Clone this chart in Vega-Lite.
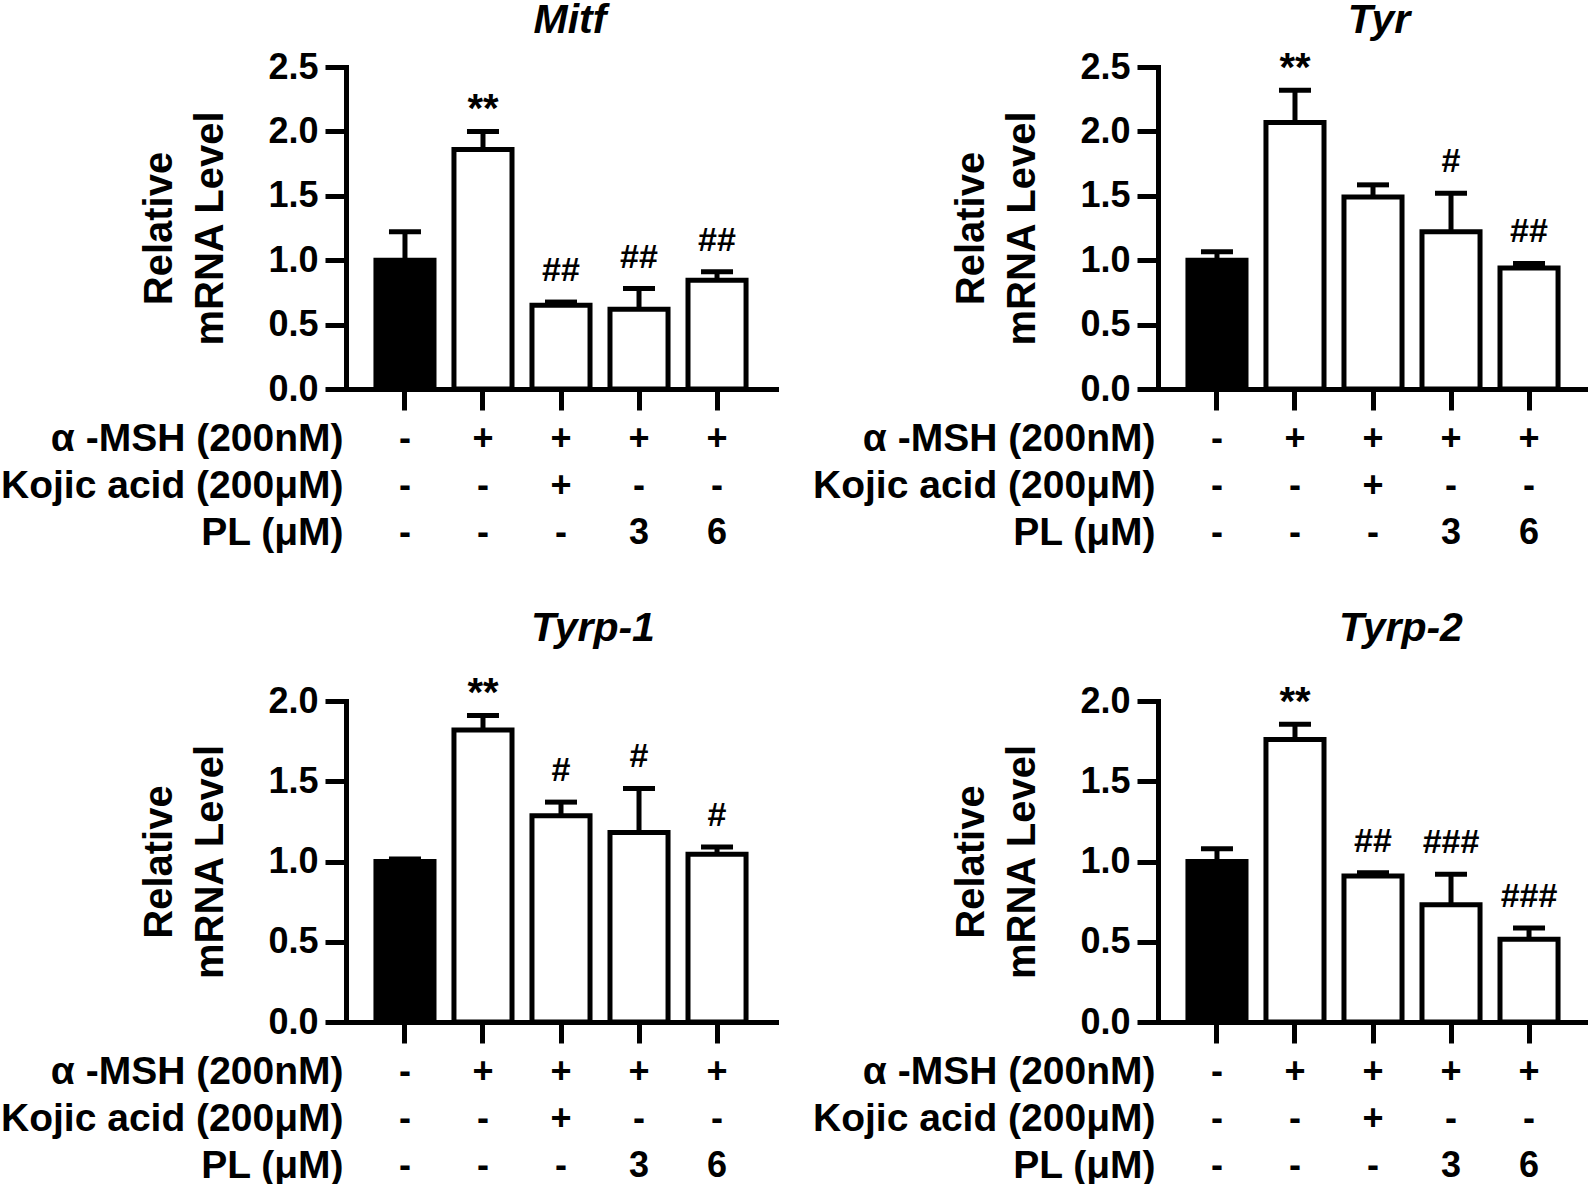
{
  "$schema": "https://vega.github.io/schema/vega-lite/v6.json",
  "padding": 0,
  "background": "white",
  "config": {
    "font": "Liberation Sans",
    "view": {"stroke": null},
    "axis": {"labelColor": "black", "titleColor": "black", "grid": false},
    "axisY": {"labelFontSize": 36, "labelFontWeight": "bold", "labelPadding": 7, "tickSize": 21, "tickWidth": 5, "tickColor": "black", "domainWidth": 5, "domainColor": "black", "domainCap": "square", "titleFontSize": 40, "titleFontWeight": "bold", "titleLineHeight": 51, "titlePadding": 37},
    "axisX": {"labels": false, "tickSize": 21, "tickWidth": 5, "tickColor": "black", "domainWidth": 5, "domainColor": "black", "domainCap": "square"},
    "title": {"fontSize": 41, "fontWeight": "bold", "fontStyle": "italic", "color": "black", "anchor": "middle", "baseline": "alphabetic", "frame": "group"}
  },
  "datasets": {
    "bars": [
      {"gene": "Mitf", "cond": "c1", "grp": "ctrl", "value": 1.0, "upper": 1.22, "sig": ""},
      {"gene": "Mitf", "cond": "c2", "grp": "trt", "value": 1.86, "upper": 2.0, "sig": "**"},
      {"gene": "Mitf", "cond": "c3", "grp": "trt", "value": 0.65, "upper": 0.675, "sig": "##"},
      {"gene": "Mitf", "cond": "c4", "grp": "trt", "value": 0.62, "upper": 0.78, "sig": "##"},
      {"gene": "Mitf", "cond": "c5", "grp": "trt", "value": 0.845, "upper": 0.91, "sig": "##"},
      {"gene": "Tyr", "cond": "c1", "grp": "ctrl", "value": 1.0, "upper": 1.065, "sig": ""},
      {"gene": "Tyr", "cond": "c2", "grp": "trt", "value": 2.07, "upper": 2.32, "sig": "**"},
      {"gene": "Tyr", "cond": "c3", "grp": "trt", "value": 1.49, "upper": 1.585, "sig": ""},
      {"gene": "Tyr", "cond": "c4", "grp": "trt", "value": 1.22, "upper": 1.52, "sig": "#"},
      {"gene": "Tyr", "cond": "c5", "grp": "trt", "value": 0.94, "upper": 0.975, "sig": "##"},
      {"gene": "Tyrp-1", "cond": "c1", "grp": "ctrl", "value": 1.0, "upper": 1.015, "sig": ""},
      {"gene": "Tyrp-1", "cond": "c2", "grp": "trt", "value": 1.82, "upper": 1.91, "sig": "**"},
      {"gene": "Tyrp-1", "cond": "c3", "grp": "trt", "value": 1.285, "upper": 1.37, "sig": "#"},
      {"gene": "Tyrp-1", "cond": "c4", "grp": "trt", "value": 1.18, "upper": 1.455, "sig": "#"},
      {"gene": "Tyrp-1", "cond": "c5", "grp": "trt", "value": 1.045, "upper": 1.09, "sig": "#"},
      {"gene": "Tyrp-2", "cond": "c1", "grp": "ctrl", "value": 1.0, "upper": 1.08, "sig": ""},
      {"gene": "Tyrp-2", "cond": "c2", "grp": "trt", "value": 1.76, "upper": 1.855, "sig": "**"},
      {"gene": "Tyrp-2", "cond": "c3", "grp": "trt", "value": 0.91, "upper": 0.93, "sig": "##"},
      {"gene": "Tyrp-2", "cond": "c4", "grp": "trt", "value": 0.73, "upper": 0.92, "sig": "###"},
      {"gene": "Tyrp-2", "cond": "c5", "grp": "trt", "value": 0.515, "upper": 0.585, "sig": "###"}
    ],
    "table": [
      {"cond": "c1", "factor": "α -MSH (200nM)", "val": "-"},
      {"cond": "c2", "factor": "α -MSH (200nM)", "val": "+"},
      {"cond": "c3", "factor": "α -MSH (200nM)", "val": "+"},
      {"cond": "c4", "factor": "α -MSH (200nM)", "val": "+"},
      {"cond": "c5", "factor": "α -MSH (200nM)", "val": "+"},
      {"cond": "c1", "factor": "Kojic acid (200μM)", "val": "-"},
      {"cond": "c2", "factor": "Kojic acid (200μM)", "val": "-"},
      {"cond": "c3", "factor": "Kojic acid (200μM)", "val": "+"},
      {"cond": "c4", "factor": "Kojic acid (200μM)", "val": "-"},
      {"cond": "c5", "factor": "Kojic acid (200μM)", "val": "-"},
      {"cond": "c1", "factor": "PL (μM)", "val": "-"},
      {"cond": "c2", "factor": "PL (μM)", "val": "-"},
      {"cond": "c3", "factor": "PL (μM)", "val": "-"},
      {"cond": "c4", "factor": "PL (μM)", "val": "3"},
      {"cond": "c5", "factor": "PL (μM)", "val": "6"}
    ]
  },
  "spacing": 50,
  "vconcat": [
    {
      "spacing": 36,
      "hconcat": [
        {
          "bounds": "flush",
          "spacing": 26.5,
          "vconcat": [
            {
              "title": {"text": "Mitf", "offset": 7, "dx": 9},
              "width": 430, "height": 322,
              "data": {"name": "bars"},
              "transform": [{"filter": "datum.gene === 'Mitf'"}],
              "encoding": {
                "x": {"field": "cond", "type": "nominal", "sort": ["c1","c2","c3","c4","c5"], "scale": {"paddingInner": 0.256, "paddingOuter": 0.384}, "axis": {"title": null}}
              },
              "layer": [
                {"mark": {"type": "rule", "strokeWidth": 5, "color": "black"},
                 "encoding": {"y": {"field": "value", "type": "quantitative", "scale": {"domain": [0, 2.5], "nice": false}, "axis": {"values": [0, 0.5, 1, 1.5, 2, 2.5], "format": ".1f", "title": ["Relative", "mRNA Level"]}}, "y2": {"field": "upper"}}},
                {"mark": {"type": "tick", "thickness": 5, "size": 32, "color": "black", "opacity": 1},
                 "encoding": {"y": {"field": "upper", "type": "quantitative", "axis": {"values": [0, 0.5, 1, 1.5, 2, 2.5], "format": ".1f", "title": ["Relative", "mRNA Level"]}}}},
                {"mark": {"type": "bar", "stroke": "black", "strokeWidth": 5},
                 "encoding": {
                   "y": {"field": "value", "type": "quantitative", "axis": {"values": [0, 0.5, 1, 1.5, 2, 2.5], "format": ".1f", "title": ["Relative", "mRNA Level"]}},
                   "fill": {"field": "grp", "type": "nominal", "scale": {"domain": ["ctrl", "trt"], "range": ["black", "white"]}, "legend": null}
                 }},
                {"transform": [{"filter": "indexof(datum.sig, '*') >= 0"}],
                 "mark": {"type": "text", "fontSize": 40, "fontWeight": "bold", "color": "black", "baseline": "alphabetic", "dy": -9},
                 "encoding": {"y": {"field": "upper", "type": "quantitative", "axis": {"values": [0, 0.5, 1, 1.5, 2, 2.5], "format": ".1f", "title": ["Relative", "mRNA Level"]}}, "text": {"field": "sig"}}},
                {"transform": [{"filter": "indexof(datum.sig, '#') >= 0"}],
                 "mark": {"type": "text", "fontSize": 34, "fontWeight": "bold", "color": "black", "baseline": "alphabetic", "dy": -21},
                 "encoding": {"y": {"field": "upper", "type": "quantitative", "axis": {"values": [0, 0.5, 1, 1.5, 2, 2.5], "format": ".1f", "title": ["Relative", "mRNA Level"]}}, "text": {"field": "sig"}}}
              ]
            },
            {
              "width": 430, "height": 141,
              "data": {"name": "table"},
              "mark": {"type": "text", "fontSize": 36, "fontWeight": "bold", "color": "black"},
              "encoding": {
                "x": {"field": "cond", "type": "nominal", "sort": ["c1","c2","c3","c4","c5"], "scale": {"type": "band", "paddingInner": 0.256, "paddingOuter": 0.384}, "axis": null},
                "y": {"field": "factor", "type": "nominal", "sort": ["α -MSH (200nM)", "Kojic acid (200μM)", "PL (μM)"], "scale": {"type": "band", "paddingInner": 0, "paddingOuter": 0},
                  "axis": {"title": null, "domain": false, "ticks": false, "tickSize": 0, "labelPadding": 3, "labelFontSize": 39, "labelFontWeight": "bold", "labelLimit": 0}},
                "text": {"field": "val"}
              }
            }
          ]
        },
        {
          "bounds": "flush",
          "spacing": 26.5,
          "vconcat": [
            {
              "title": {"text": "Tyr", "offset": 7, "dx": 6},
              "width": 430, "height": 322,
              "data": {"name": "bars"},
              "transform": [{"filter": "datum.gene === 'Tyr'"}],
              "encoding": {
                "x": {"field": "cond", "type": "nominal", "sort": ["c1","c2","c3","c4","c5"], "scale": {"paddingInner": 0.256, "paddingOuter": 0.384}, "axis": {"title": null}}
              },
              "layer": [
                {"mark": {"type": "rule", "strokeWidth": 5, "color": "black"},
                 "encoding": {"y": {"field": "value", "type": "quantitative", "scale": {"domain": [0, 2.5], "nice": false}, "axis": {"values": [0, 0.5, 1, 1.5, 2, 2.5], "format": ".1f", "title": ["Relative", "mRNA Level"]}}, "y2": {"field": "upper"}}},
                {"mark": {"type": "tick", "thickness": 5, "size": 32, "color": "black", "opacity": 1},
                 "encoding": {"y": {"field": "upper", "type": "quantitative", "axis": {"values": [0, 0.5, 1, 1.5, 2, 2.5], "format": ".1f", "title": ["Relative", "mRNA Level"]}}}},
                {"mark": {"type": "bar", "stroke": "black", "strokeWidth": 5},
                 "encoding": {
                   "y": {"field": "value", "type": "quantitative", "axis": {"values": [0, 0.5, 1, 1.5, 2, 2.5], "format": ".1f", "title": ["Relative", "mRNA Level"]}},
                   "fill": {"field": "grp", "type": "nominal", "scale": {"domain": ["ctrl", "trt"], "range": ["black", "white"]}, "legend": null}
                 }},
                {"transform": [{"filter": "indexof(datum.sig, '*') >= 0"}],
                 "mark": {"type": "text", "fontSize": 40, "fontWeight": "bold", "color": "black", "baseline": "alphabetic", "dy": -9},
                 "encoding": {"y": {"field": "upper", "type": "quantitative", "axis": {"values": [0, 0.5, 1, 1.5, 2, 2.5], "format": ".1f", "title": ["Relative", "mRNA Level"]}}, "text": {"field": "sig"}}},
                {"transform": [{"filter": "indexof(datum.sig, '#') >= 0"}],
                 "mark": {"type": "text", "fontSize": 34, "fontWeight": "bold", "color": "black", "baseline": "alphabetic", "dy": -21},
                 "encoding": {"y": {"field": "upper", "type": "quantitative", "axis": {"values": [0, 0.5, 1, 1.5, 2, 2.5], "format": ".1f", "title": ["Relative", "mRNA Level"]}}, "text": {"field": "sig"}}}
              ]
            },
            {
              "width": 430, "height": 141,
              "data": {"name": "table"},
              "mark": {"type": "text", "fontSize": 36, "fontWeight": "bold", "color": "black"},
              "encoding": {
                "x": {"field": "cond", "type": "nominal", "sort": ["c1","c2","c3","c4","c5"], "scale": {"type": "band", "paddingInner": 0.256, "paddingOuter": 0.384}, "axis": null},
                "y": {"field": "factor", "type": "nominal", "sort": ["α -MSH (200nM)", "Kojic acid (200μM)", "PL (μM)"], "scale": {"type": "band", "paddingInner": 0, "paddingOuter": 0},
                  "axis": {"title": null, "domain": false, "ticks": false, "tickSize": 0, "labelPadding": 3, "labelFontSize": 39, "labelFontWeight": "bold", "labelLimit": 0}},
                "text": {"field": "val"}
              }
            }
          ]
        }
      ]
    },
    {
      "spacing": 36,
      "hconcat": [
        {
          "bounds": "flush",
          "spacing": 26.5,
          "vconcat": [
            {
              "title": {"text": "Tyrp-1", "offset": 24, "dx": 32},
              "width": 430, "height": 321,
              "data": {"name": "bars"},
              "transform": [{"filter": "datum.gene === 'Tyrp-1'"}],
              "encoding": {
                "x": {"field": "cond", "type": "nominal", "sort": ["c1","c2","c3","c4","c5"], "scale": {"paddingInner": 0.256, "paddingOuter": 0.384}, "axis": {"title": null}}
              },
              "layer": [
                {"mark": {"type": "rule", "strokeWidth": 5, "color": "black"},
                 "encoding": {"y": {"field": "value", "type": "quantitative", "scale": {"domain": [0, 2], "nice": false}, "axis": {"values": [0, 0.5, 1, 1.5, 2], "format": ".1f", "title": ["Relative", "mRNA Level"]}}, "y2": {"field": "upper"}}},
                {"mark": {"type": "tick", "thickness": 5, "size": 32, "color": "black", "opacity": 1},
                 "encoding": {"y": {"field": "upper", "type": "quantitative", "axis": {"values": [0, 0.5, 1, 1.5, 2], "format": ".1f", "title": ["Relative", "mRNA Level"]}}}},
                {"mark": {"type": "bar", "stroke": "black", "strokeWidth": 5},
                 "encoding": {
                   "y": {"field": "value", "type": "quantitative", "axis": {"values": [0, 0.5, 1, 1.5, 2], "format": ".1f", "title": ["Relative", "mRNA Level"]}},
                   "fill": {"field": "grp", "type": "nominal", "scale": {"domain": ["ctrl", "trt"], "range": ["black", "white"]}, "legend": null}
                 }},
                {"transform": [{"filter": "indexof(datum.sig, '*') >= 0"}],
                 "mark": {"type": "text", "fontSize": 40, "fontWeight": "bold", "color": "black", "baseline": "alphabetic", "dy": -9},
                 "encoding": {"y": {"field": "upper", "type": "quantitative", "axis": {"values": [0, 0.5, 1, 1.5, 2], "format": ".1f", "title": ["Relative", "mRNA Level"]}}, "text": {"field": "sig"}}},
                {"transform": [{"filter": "indexof(datum.sig, '#') >= 0"}],
                 "mark": {"type": "text", "fontSize": 34, "fontWeight": "bold", "color": "black", "baseline": "alphabetic", "dy": -21},
                 "encoding": {"y": {"field": "upper", "type": "quantitative", "axis": {"values": [0, 0.5, 1, 1.5, 2], "format": ".1f", "title": ["Relative", "mRNA Level"]}}, "text": {"field": "sig"}}}
              ]
            },
            {
              "width": 430, "height": 141,
              "data": {"name": "table"},
              "mark": {"type": "text", "fontSize": 36, "fontWeight": "bold", "color": "black"},
              "encoding": {
                "x": {"field": "cond", "type": "nominal", "sort": ["c1","c2","c3","c4","c5"], "scale": {"type": "band", "paddingInner": 0.256, "paddingOuter": 0.384}, "axis": null},
                "y": {"field": "factor", "type": "nominal", "sort": ["α -MSH (200nM)", "Kojic acid (200μM)", "PL (μM)"], "scale": {"type": "band", "paddingInner": 0, "paddingOuter": 0},
                  "axis": {"title": null, "domain": false, "ticks": false, "tickSize": 0, "labelPadding": 3, "labelFontSize": 39, "labelFontWeight": "bold", "labelLimit": 0}},
                "text": {"field": "val"}
              }
            }
          ]
        },
        {
          "bounds": "flush",
          "spacing": 26.5,
          "vconcat": [
            {
              "title": {"text": "Tyrp-2", "offset": 33.5, "dx": 28},
              "width": 430, "height": 321,
              "data": {"name": "bars"},
              "transform": [{"filter": "datum.gene === 'Tyrp-2'"}],
              "encoding": {
                "x": {"field": "cond", "type": "nominal", "sort": ["c1","c2","c3","c4","c5"], "scale": {"paddingInner": 0.256, "paddingOuter": 0.384}, "axis": {"title": null}}
              },
              "layer": [
                {"mark": {"type": "rule", "strokeWidth": 5, "color": "black"},
                 "encoding": {"y": {"field": "value", "type": "quantitative", "scale": {"domain": [0, 2], "nice": false}, "axis": {"values": [0, 0.5, 1, 1.5, 2], "format": ".1f", "title": ["Relative", "mRNA Level"]}}, "y2": {"field": "upper"}}},
                {"mark": {"type": "tick", "thickness": 5, "size": 32, "color": "black", "opacity": 1},
                 "encoding": {"y": {"field": "upper", "type": "quantitative", "axis": {"values": [0, 0.5, 1, 1.5, 2], "format": ".1f", "title": ["Relative", "mRNA Level"]}}}},
                {"mark": {"type": "bar", "stroke": "black", "strokeWidth": 5},
                 "encoding": {
                   "y": {"field": "value", "type": "quantitative", "axis": {"values": [0, 0.5, 1, 1.5, 2], "format": ".1f", "title": ["Relative", "mRNA Level"]}},
                   "fill": {"field": "grp", "type": "nominal", "scale": {"domain": ["ctrl", "trt"], "range": ["black", "white"]}, "legend": null}
                 }},
                {"transform": [{"filter": "indexof(datum.sig, '*') >= 0"}],
                 "mark": {"type": "text", "fontSize": 40, "fontWeight": "bold", "color": "black", "baseline": "alphabetic", "dy": -9},
                 "encoding": {"y": {"field": "upper", "type": "quantitative", "axis": {"values": [0, 0.5, 1, 1.5, 2], "format": ".1f", "title": ["Relative", "mRNA Level"]}}, "text": {"field": "sig"}}},
                {"transform": [{"filter": "indexof(datum.sig, '#') >= 0"}],
                 "mark": {"type": "text", "fontSize": 34, "fontWeight": "bold", "color": "black", "baseline": "alphabetic", "dy": -21},
                 "encoding": {"y": {"field": "upper", "type": "quantitative", "axis": {"values": [0, 0.5, 1, 1.5, 2], "format": ".1f", "title": ["Relative", "mRNA Level"]}}, "text": {"field": "sig"}}}
              ]
            },
            {
              "width": 430, "height": 141,
              "data": {"name": "table"},
              "mark": {"type": "text", "fontSize": 36, "fontWeight": "bold", "color": "black"},
              "encoding": {
                "x": {"field": "cond", "type": "nominal", "sort": ["c1","c2","c3","c4","c5"], "scale": {"type": "band", "paddingInner": 0.256, "paddingOuter": 0.384}, "axis": null},
                "y": {"field": "factor", "type": "nominal", "sort": ["α -MSH (200nM)", "Kojic acid (200μM)", "PL (μM)"], "scale": {"type": "band", "paddingInner": 0, "paddingOuter": 0},
                  "axis": {"title": null, "domain": false, "ticks": false, "tickSize": 0, "labelPadding": 3, "labelFontSize": 39, "labelFontWeight": "bold", "labelLimit": 0}},
                "text": {"field": "val"}
              }
            }
          ]
        }
      ]
    }
  ]
}
